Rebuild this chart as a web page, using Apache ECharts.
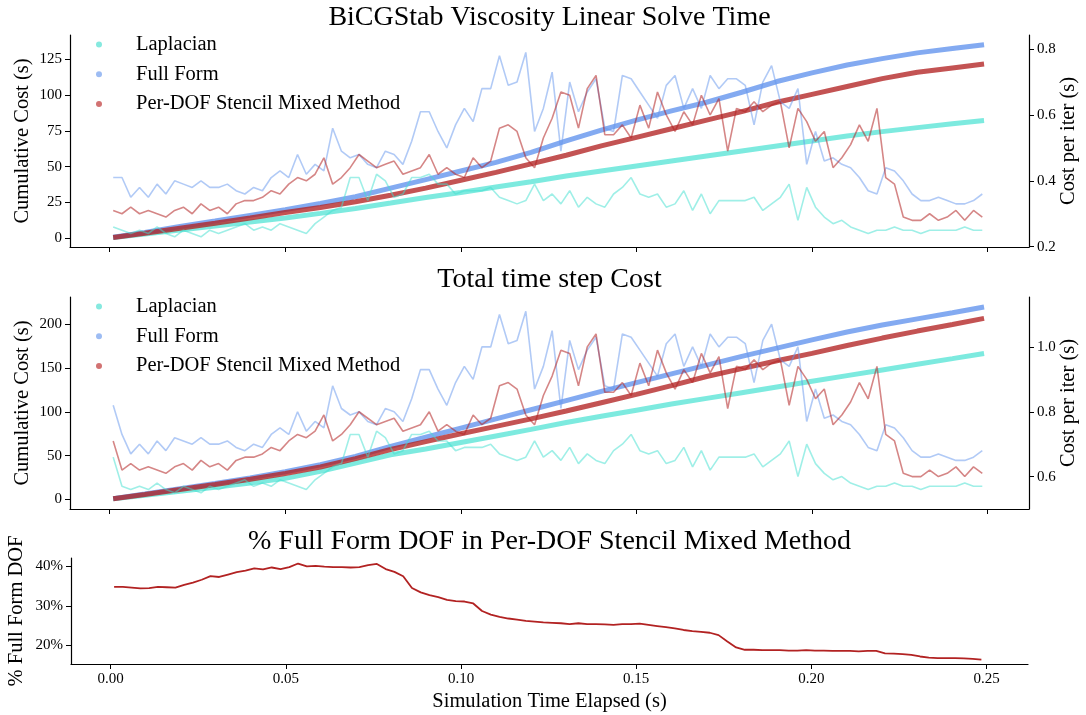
<!DOCTYPE html>
<html>
<head>
<meta charset="utf-8">
<title>BiCGStab Viscosity Linear Solve Time</title>
<script src="https://cdn.jsdelivr.net/npm/echarts@6/dist/echarts.min.js"></script>
<style>
  html, body { margin: 0; padding: 0; background: #fff; }
  #chart { width: 1086px; height: 715px; }
</style>
</head>
<body>
<div id="chart"></div>
<script>
// sample times of the per-iteration series (one sample every 0.0025 s)
const iterStart = 0.001;
const iterStep = 0.0025;
const iterTimes = Array.from({ length: 100 }, (_, i) => +(iterStart + iterStep * i).toFixed(4));

// sample times of the cumulative series
const cumTimes = [0.001, 0.01, 0.02, 0.03, 0.04, 0.05, 0.06, 0.07, 0.08, 0.09, 0.10, 0.11, 0.12,
  0.13, 0.14, 0.15, 0.16, 0.17, 0.18, 0.19, 0.20, 0.21, 0.22, 0.23, 0.24, 0.249];

// tick labels
const xTicks = [0, 0.05, 0.10, 0.15, 0.20, 0.25];
const solveCumTicks = [0, 25, 50, 75, 100, 125];
const solveIterTicks = [0.2, 0.4, 0.6, 0.8];
const stepCumTicks = [0, 50, 100, 150, 200];
const stepIterTicks = [0.6, 0.8, 1.0];
const dofTicks = [20, 30, 40];

const names = ["Laplacian", "Full Form", "Per-DOF Stencil Mixed Method"];

// --- panel 1 : linear solve ---
const solveCumLap = [0.5, 3.0, 5.8, 8.6, 11.4, 14.2, 17.4, 20.8, 24.6, 28.5, 32.0, 35.8, 39.5,
  43.5, 47.0, 50.5, 54.0, 57.5, 61.0, 64.5, 68.0, 71.5, 74.5, 77.3, 80.0, 82.2];
const solveCumFull = [0.7, 4.0, 8.2, 12.0, 16.0, 20.0, 24.3, 29.0, 35.0, 41.0, 47.0, 53.0, 60.0,
  68.0, 75.5, 82.5, 89.0, 95.0, 102.0, 109.5, 115.5, 121.0, 125.5, 129.5, 132.5, 135.2];
const solveCumMixed = [0.6, 3.5, 7.0, 10.5, 14.2, 18.0, 21.5, 25.5, 30.0, 35.0, 40.5, 46.0, 52.0,
  58.0, 64.5, 70.5, 76.5, 82.5, 88.5, 95.0, 100.5, 106.0, 111.5, 116.0, 119.0, 121.7];

const solveIterLap = [
  0.26, 0.25, 0.24, 0.25, 0.24, 0.26, 0.24, 0.23, 0.25, 0.24,
  0.23, 0.25, 0.24, 0.25, 0.26, 0.27, 0.25, 0.26, 0.25, 0.27,
  0.26, 0.25, 0.24, 0.27, 0.29, 0.31, 0.32, 0.41, 0.41, 0.34,
  0.42, 0.40, 0.35, 0.36, 0.41, 0.41, 0.42, 0.39, 0.39, 0.36,
  0.37, 0.37, 0.37, 0.38, 0.35, 0.34, 0.33, 0.34, 0.39, 0.34,
  0.36, 0.33, 0.37, 0.32, 0.35, 0.33, 0.32, 0.36, 0.38, 0.41,
  0.36, 0.35, 0.36, 0.32, 0.33, 0.37, 0.31, 0.36, 0.30, 0.34,
  0.34, 0.34, 0.34, 0.35, 0.31, 0.33, 0.35, 0.39, 0.28, 0.38,
  0.32, 0.29, 0.27, 0.28, 0.26, 0.25, 0.24, 0.25, 0.25, 0.26,
  0.25, 0.25, 0.24, 0.25, 0.25, 0.25, 0.25, 0.26, 0.25, 0.25];
const solveIterFull = [
  0.41, 0.41, 0.35, 0.38, 0.35, 0.39, 0.36, 0.40, 0.39, 0.38,
  0.40, 0.38, 0.38, 0.39, 0.37, 0.36, 0.38, 0.37, 0.41, 0.43,
  0.41, 0.48, 0.42, 0.45, 0.43, 0.56, 0.49, 0.47, 0.48, 0.45,
  0.44, 0.49, 0.48, 0.45, 0.52, 0.61, 0.61, 0.55, 0.50, 0.57,
  0.62, 0.58, 0.68, 0.68, 0.78, 0.69, 0.70, 0.79, 0.55, 0.62,
  0.73, 0.49, 0.70, 0.61, 0.67, 0.71, 0.56, 0.55, 0.72, 0.71,
  0.67, 0.63, 0.59, 0.69, 0.72, 0.62, 0.68, 0.62, 0.72, 0.68,
  0.71, 0.71, 0.69, 0.57, 0.70, 0.75, 0.64, 0.62, 0.68, 0.45,
  0.55, 0.46, 0.47, 0.45, 0.44, 0.41, 0.37, 0.36, 0.44, 0.43,
  0.40, 0.36, 0.34, 0.34, 0.35, 0.34, 0.33, 0.33, 0.34, 0.36];
const solveIterMixed = [
  0.31, 0.30, 0.32, 0.30, 0.31, 0.30, 0.29, 0.31, 0.32, 0.30,
  0.33, 0.31, 0.32, 0.30, 0.33, 0.34, 0.34, 0.35, 0.37, 0.36,
  0.39, 0.41, 0.40, 0.42, 0.47, 0.39, 0.41, 0.44, 0.48, 0.46,
  0.44, 0.45, 0.46, 0.42, 0.43, 0.44, 0.48, 0.42, 0.44, 0.42,
  0.41, 0.47, 0.44, 0.46, 0.56, 0.57, 0.55, 0.47, 0.44, 0.53,
  0.59, 0.67, 0.66, 0.56, 0.68, 0.72, 0.54, 0.54, 0.57, 0.53,
  0.63, 0.56, 0.67, 0.60, 0.55, 0.61, 0.57, 0.66, 0.60, 0.65,
  0.49, 0.62, 0.61, 0.64, 0.61, 0.63, 0.64, 0.50, 0.62, 0.58,
  0.52, 0.55, 0.44, 0.47, 0.51, 0.57, 0.52, 0.62, 0.41, 0.39,
  0.29, 0.28, 0.28, 0.30, 0.28, 0.29, 0.31, 0.28, 0.31, 0.29];

// --- panel 2 : total time step ---
const stepCumLap = [0.6, 4.6, 9.2, 13.8, 18.6, 24.0, 32.0, 41.5, 51.0, 57.5, 65.0, 72.5, 80.0,
  87.8, 95.0, 102.0, 109.0, 115.5, 122.0, 128.5, 135.0, 141.5, 148.0, 154.5, 161.0, 166.9];
const stepCumFull = [0.8, 6.0, 12.0, 18.0, 24.5, 31.5, 39.5, 49.0, 60.5, 71.0, 81.5, 92.0, 102.5,
  113.0, 123.5, 133.5, 143.5, 153.5, 163.5, 173.0, 182.5, 191.5, 199.5, 206.5, 213.5, 220.0];
const stepCumMixed = [0.7, 5.5, 11.2, 17.0, 23.0, 29.5, 37.0, 46.5, 57.0, 66.0, 75.0, 83.5, 92.0,
  101.0, 110.5, 120.0, 130.0, 140.5, 149.5, 158.5, 167.0, 176.0, 184.5, 192.5, 200.0, 207.0];

const stepIterLap = [
  0.66, 0.57, 0.56, 0.57, 0.56, 0.58, 0.56, 0.55, 0.57, 0.56,
  0.55, 0.57, 0.56, 0.57, 0.58, 0.59, 0.57, 0.58, 0.57, 0.59,
  0.58, 0.57, 0.56, 0.59, 0.61, 0.63, 0.64, 0.73, 0.73, 0.66,
  0.74, 0.72, 0.67, 0.68, 0.73, 0.73, 0.74, 0.71, 0.71, 0.68,
  0.69, 0.69, 0.69, 0.70, 0.67, 0.66, 0.65, 0.66, 0.71, 0.66,
  0.68, 0.65, 0.69, 0.64, 0.67, 0.65, 0.64, 0.68, 0.70, 0.73,
  0.68, 0.67, 0.68, 0.64, 0.65, 0.69, 0.63, 0.68, 0.62, 0.66,
  0.66, 0.66, 0.66, 0.67, 0.63, 0.65, 0.67, 0.71, 0.60, 0.70,
  0.64, 0.61, 0.59, 0.60, 0.58, 0.57, 0.56, 0.57, 0.57, 0.58,
  0.57, 0.57, 0.56, 0.57, 0.57, 0.57, 0.57, 0.58, 0.57, 0.57];
const stepIterFull = [
  0.82, 0.73, 0.67, 0.70, 0.67, 0.71, 0.68, 0.72, 0.71, 0.70,
  0.72, 0.70, 0.70, 0.71, 0.69, 0.68, 0.70, 0.69, 0.73, 0.75,
  0.73, 0.80, 0.74, 0.77, 0.75, 0.88, 0.81, 0.79, 0.80, 0.77,
  0.76, 0.81, 0.80, 0.77, 0.84, 0.93, 0.93, 0.87, 0.82, 0.89,
  0.94, 0.90, 1.00, 1.00, 1.10, 1.01, 1.02, 1.11, 0.87, 0.94,
  1.05, 0.81, 1.02, 0.93, 0.99, 1.03, 0.88, 0.87, 1.04, 1.03,
  0.99, 0.95, 0.91, 1.01, 1.04, 0.94, 1.00, 0.94, 1.04, 1.00,
  1.03, 1.03, 1.01, 0.89, 1.02, 1.07, 0.96, 0.94, 1.00, 0.77,
  0.87, 0.78, 0.79, 0.77, 0.76, 0.73, 0.69, 0.68, 0.76, 0.75,
  0.72, 0.68, 0.66, 0.66, 0.67, 0.66, 0.65, 0.65, 0.66, 0.68];
const stepIterMixed = [
  0.71, 0.62, 0.64, 0.62, 0.63, 0.62, 0.61, 0.63, 0.64, 0.62,
  0.65, 0.63, 0.64, 0.62, 0.65, 0.66, 0.66, 0.67, 0.69, 0.68,
  0.71, 0.73, 0.72, 0.74, 0.79, 0.71, 0.73, 0.76, 0.80, 0.78,
  0.76, 0.77, 0.78, 0.74, 0.75, 0.76, 0.80, 0.74, 0.76, 0.74,
  0.73, 0.79, 0.76, 0.78, 0.88, 0.89, 0.87, 0.79, 0.76, 0.85,
  0.91, 0.99, 0.98, 0.88, 1.00, 1.04, 0.86, 0.86, 0.89, 0.85,
  0.95, 0.88, 0.99, 0.92, 0.87, 0.93, 0.89, 0.98, 0.92, 0.97,
  0.81, 0.94, 0.93, 0.96, 0.93, 0.95, 0.96, 0.82, 0.94, 0.90,
  0.84, 0.87, 0.76, 0.79, 0.83, 0.89, 0.84, 0.94, 0.73, 0.71,
  0.61, 0.60, 0.60, 0.62, 0.60, 0.61, 0.63, 0.60, 0.63, 0.61];

// --- panel 3 : % full form DOF (percent) ---
const fullFormDofPct = [
  34.8, 34.8, 34.6, 34.4, 34.5, 34.8, 34.7, 34.6, 35.3, 35.9,
  36.6, 37.5, 37.3, 37.9, 38.5, 38.9, 39.5, 39.2, 39.7, 39.3,
  39.8, 40.7, 40.0, 40.1, 39.9, 39.8, 39.8, 39.7, 39.8, 40.3,
  40.6, 39.3, 38.6, 37.5, 34.5, 33.4, 32.7, 32.2, 31.5, 31.2,
  31.1, 30.6, 28.7, 27.8, 27.2, 26.8, 26.5, 26.2, 26.0, 25.8,
  25.7, 25.6, 25.4, 25.6, 25.4, 25.4, 25.3, 25.2, 25.4, 25.4,
  25.5, 25.2, 24.9, 24.6, 24.3, 23.9, 23.6, 23.4, 23.2, 22.6,
  21.0, 19.5, 18.9, 18.9, 18.8, 18.8, 18.8, 18.7, 18.7, 18.8,
  18.7, 18.7, 18.6, 18.6, 18.6, 18.5, 18.6, 18.6, 18.0, 17.9,
  17.8, 17.6, 17.2, 16.9, 16.8, 16.8, 16.8, 16.7, 16.6, 16.4];

const FONT = '"Liberation Serif", "Times New Roman", serif';
const cumColors = ["rgba(64,224,208,0.68)", "rgba(100,149,237,0.8)", "rgba(178,34,34,0.78)"];
const iterColors = ["rgba(64,224,208,0.5)", "rgba(100,149,237,0.5)", "rgba(178,34,34,0.55)"];
const legendDot = ["#86e9df", "#9dbcf3", "#d27272"];

const pair = (xs, ys) => xs.map((x, i) => [x, ys[i]]);

function xAxisFor(gridIndex, withLabels) {
  return {
    type: "value",
    gridIndex: gridIndex,
    min: -0.0113,
    max: 0.2618,
    splitLine: { show: false },
    axisLine: { onZero: false, lineStyle: { color: "#000", width: 1.2 } },
    axisTick: { customValues: xTicks, length: 5, lineStyle: { color: "#000" } },
    axisLabel: {
      show: withLabels,
      customValues: xTicks,
      margin: 8,
      color: "#000",
      fontFamily: FONT,
      fontSize: 15,
      formatter: (v) => v.toFixed(2),
    },
    name: withLabels ? "Simulation Time Elapsed (s)" : "",
    nameLocation: "middle",
    nameGap: 27,
    nameMoveOverlap: false,
    nameTextStyle: { color: "#000", fontFamily: FONT, fontSize: 20.5 },
  };
}

function yAxisFor(gridIndex, pos, min, max, ticks, name, gap, fmt) {
  return {
    type: "value",
    gridIndex: gridIndex,
    position: pos,
    min: min,
    max: max,
    splitLine: { show: false },
    axisLine: { show: true, onZero: false, lineStyle: { color: "#000", width: 1.2 } },
    axisTick: { show: true, customValues: ticks, length: 5, lineStyle: { color: "#000" } },
    axisLabel: {
      customValues: ticks,
      margin: 8,
      color: "#000",
      fontFamily: FONT,
      fontSize: 15,
      formatter: fmt,
    },
    name: name,
    nameLocation: "middle",
    nameGap: gap,
    nameRotate: 90,
    nameMoveOverlap: false,
    nameTextStyle: { color: "#000", fontFamily: FONT, fontSize: 20.5 },
  };
}

function legendFor(top) {
  return {
    orient: "vertical",
    left: 96,
    top: top,
    padding: 0,
    itemWidth: 6,
    itemHeight: 6,
    itemGap: 8.7,
    icon: "circle",
    selectedMode: false,
    textStyle: { fontFamily: FONT, fontSize: 20.5, lineHeight: 20, color: "#000", padding: [0, 0, 0, 29] },
    data: names.map((n, i) => ({ name: n, itemStyle: { color: legendDot[i] } })),
  };
}

function cumSeries(name, ys, xIdx, yIdx, k) {
  return {
    name: name,
    type: "line",
    xAxisIndex: xIdx,
    yAxisIndex: yIdx,
    data: pair(cumTimes, ys),
    symbol: "none",
    lineStyle: { color: cumColors[k], width: 5 },
    itemStyle: { color: cumColors[k] },
    z: 2,
  };
}

function iterSeries(name, ys, xIdx, yIdx, k) {
  return {
    name: name + " per iter",
    type: "line",
    xAxisIndex: xIdx,
    yAxisIndex: yIdx,
    data: pair(iterTimes, ys),
    symbol: "none",
    lineStyle: { color: iterColors[k], width: 1.6 },
    itemStyle: { color: iterColors[k] },
    z: 3,
  };
}

const titleText = (text, y) => ({
  type: "text",
  x: 549.5,
  y: y,
  style: { text: text, fill: "#000", font: "28px " + FONT, align: "center", verticalAlign: "middle" },
});

const chart = echarts.init(document.getElementById("chart"), null, { renderer: "canvas" });

chart.setOption({
  animation: false,
  backgroundColor: "#fff",
  graphic: [
    titleText("BiCGStab Viscosity Linear Solve Time", 18),
    titleText("Total time step Cost", 280),
    titleText("% Full Form DOF in Per-DOF Stencil Mixed Method", 542),
  ],
  legend: [legendFor(34), legendFor(296)],
  grid: [
    { left: 70, right: 57, top: 35, height: 212, outerBoundsMode: "none" },
    { left: 70, right: 57, top: 297, height: 212, outerBoundsMode: "none" },
    { left: 71, right: 58, top: 558, height: 106, outerBoundsMode: "none" },
  ],
  xAxis: [xAxisFor(0, false), xAxisFor(1, false), xAxisFor(2, true)],
  yAxis: [
    yAxisFor(0, "left", -6.1, 142, solveCumTicks, "Cumulative Cost (s)", 37, (v) => String(v)),
    yAxisFor(0, "right", 0.199, 0.843, solveIterTicks, "Cost per iter (s)", 29, (v) => v.toFixed(1)),
    yAxisFor(1, "left", -11.1, 231.5, stepCumTicks, "Cumulative Cost (s)", 37, (v) => String(v)),
    yAxisFor(1, "right", 0.50, 1.154, stepIterTicks, "Cost per iter (s)", 29, (v) => v.toFixed(1)),
    yAxisFor(2, "left", 15.3, 42.1, dofTicks, "% Full Form DOF", 44, (v) => v + "%"),
  ],
  series: [
    cumSeries(names[0], solveCumLap, 0, 0, 0),
    cumSeries(names[1], solveCumFull, 0, 0, 1),
    cumSeries(names[2], solveCumMixed, 0, 0, 2),
    iterSeries(names[0], solveIterLap, 0, 1, 0),
    iterSeries(names[1], solveIterFull, 0, 1, 1),
    iterSeries(names[2], solveIterMixed, 0, 1, 2),

    cumSeries(names[0], stepCumLap, 1, 2, 0),
    cumSeries(names[1], stepCumFull, 1, 2, 1),
    cumSeries(names[2], stepCumMixed, 1, 2, 2),
    iterSeries(names[0], stepIterLap, 1, 3, 0),
    iterSeries(names[1], stepIterFull, 1, 3, 1),
    iterSeries(names[2], stepIterMixed, 1, 3, 2),

    {
      name: "% Full Form DOF",
      type: "line",
      xAxisIndex: 2,
      yAxisIndex: 4,
      data: pair(iterTimes, fullFormDofPct),
      symbol: "none",
      lineStyle: { color: "#b22222", width: 1.8 },
    },
  ],
});
</script>
</body>
</html>
